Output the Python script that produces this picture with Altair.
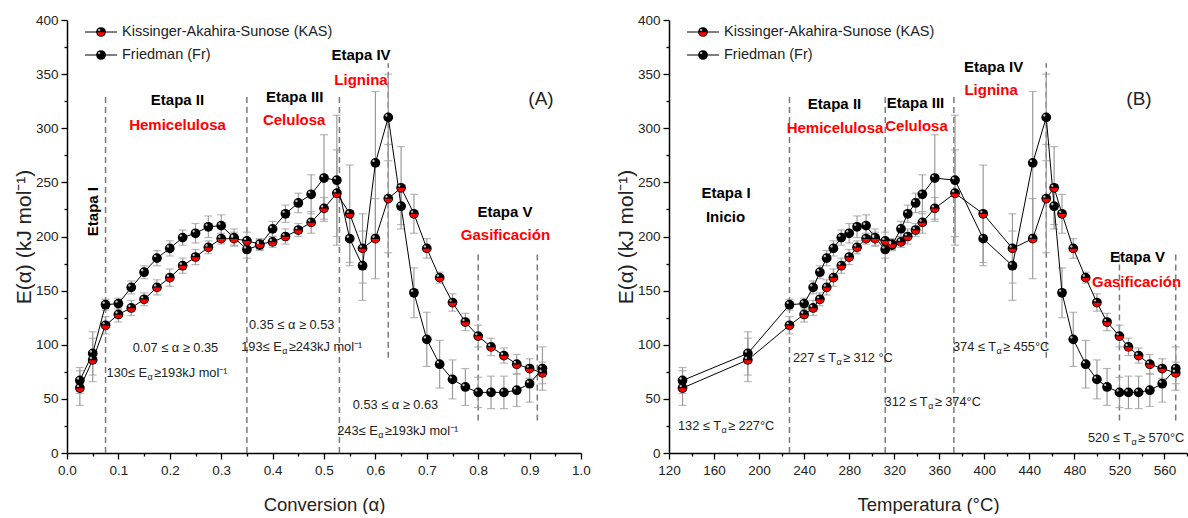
import altair as alt
import pandas as pd

# ---- kinetic data: apparent activation energy E(alpha) ----
ALPHA = [0.025, 0.05, 0.075, 0.1, 0.125, 0.15, 0.175, 0.2, 0.225, 0.25,
         0.275, 0.3, 0.325, 0.35, 0.375, 0.4, 0.425, 0.45, 0.475, 0.5,
         0.525, 0.55, 0.575, 0.6, 0.625, 0.65, 0.675, 0.7, 0.725, 0.75,
         0.775, 0.8, 0.825, 0.85, 0.875, 0.9, 0.925]
TEMP_C = [132, 190, 227, 240, 248, 254, 260, 266, 273, 280,
          287, 295, 303, 312, 318, 326, 332, 339, 345, 356,
          374, 399, 425, 443, 455, 462, 469, 479, 490, 500,
          509, 520, 528, 537, 547, 558, 570]
E_KAS = [60, 86, 118, 128, 134, 142, 153, 162, 173, 181,
         190, 198, 198, 196, 193, 195, 200, 206, 213, 226,
         240, 221, 189, 198, 235, 245, 221, 189, 162, 139,
         121, 108, 98, 90, 82, 78, 74]
E_KAS_ERR = [16, 20, 8, 7, 7, 6, 7, 8, 7, 7,
             6, 5, 6, 8, 5, 5, 7, 6, 10, 10,
             40, 45, 32, 37, 50, 38, 18, 9, 5, 8,
             8, 10, 8, 7, 9, 9, 10]
E_FR = [67, 92, 137, 138, 153, 167, 180, 189, 199, 203,
        209, 210, 199, 188, 192, 207, 221, 231, 239, 254,
        252, 198, 173, 268, 310, 228, 148, 105, 82, 68,
        61, 56, 56, 56, 58, 64, 78]
E_FR_ERR = [12, 20, 5, 5, 6, 6, 7, 7, 7, 9,
            10, 10, 8, 8, 5, 7, 8, 9, 18, 40,
            60, 25, 32, 66, 40, 17, 23, 25, 22, 18,
            17, 14, 15, 15, 15, 17, 20]
METHODS = ["Kissinger-Akahira-Sunose (KAS)", "Friedman (Fr)"]

# stage boundaries (dashed guides): position, lower and upper E
BOUNDS_ALPHA = [0.075, 0.35, 0.53, 0.625, 0.8, 0.915]
BOUNDS_TEMP = [227, 312, 373, 455, 520, 570]
BOUND_LO = [0, 0, 0, 88, 30, 30]
BOUND_HI = [330, 330, 330, 360, 185, 185]

# stage titles
STAGE_A = ["Etapa II", "Etapa III", "Etapa IV", "Etapa V"]
COMP_A = ["Hemicelulosa", "Celulosa", "Lignina", "Gasificación"]
STAGE_B = ["Etapa I", "Etapa II", "Etapa III", "Etapa IV", "Etapa V"]
COMP_B = ["Inicio", "Hemicelulosa", "Celulosa", "Lignina", "Gasificación"]
RANGE_A = ["0.07 ≤ α ≥ 0.35", "0.35 ≤ α ≥ 0.53", "0.53 ≤ α ≥ 0.63"]
EA_LEFT = ["130≤ E", "193≤ E", "243≤ E"]
EA_RIGHT = ["≥193kJ mol⁻¹", "≥243kJ mol⁻¹", "≥193kJ mol⁻¹"]
TA_LEFT = ["132 ≤ T", "227 ≤ T", "312 ≤ T", "374 ≤ T", "520 ≤ T"]
TA_RIGHT = ["≥ 227°C", "≥ 312 °C", "≥ 374°C", "≥ 455°C", "≥ 570°C"]

# ---- layout of the annotations (data coordinates) ----
STAGE_A_POS = [(0.215, 326), (0.443, 329), (0.572, 368), (0.852, 223)]
COMP_A_POS = [(0.215, 303), (0.442, 308), (0.572, 345), (0.853, 201)]
RANGE_A_POS = [(0.211, 97), (0.437, 118), (0.639, 44)]
EA_POS = [(0.1556, 74), (0.4177, 98), (0.6045, 20)]
STAGE_B_POS = [(170.6, 240), (267, 322), (338.9, 323), (408.2, 357), (536, 181)]
COMP_B_POS = [(170.2, 218), (267.4, 300), (339.8, 302), (406, 335), (535.2, 158)]
TA_POS = [(166.2, 25), (268.3, 88), (349.7, 47), (410.4, 98), (530.3, 14)]

FONT = "Liberation Sans"
RED = "#ff0000"
ERR = "#9a9a9a"
INK = "#222222"
YTITLE = "E(α) (kJ mol⁻¹)"
BIG = 15        # stage titles
SMALL = 12.8    # range notes
SUB = 9

rows = []
for i, a in enumerate(ALPHA):
    rows.append(dict(method=METHODS[0], alpha=a, T=TEMP_C[i], E=E_KAS[i],
                     lo=E_KAS[i] - E_KAS_ERR[i], hi=E_KAS[i] + E_KAS_ERR[i]))
    rows.append(dict(method=METHODS[1], alpha=a, T=TEMP_C[i], E=E_FR[i],
                     lo=E_FR[i] - E_FR_ERR[i], hi=E_FR[i] + E_FR_ERR[i]))
df = pd.DataFrame(rows)

# marker pieces (custom symbol paths in the unit square)
LOWER_HALF = "M -0.8 0.05 A 0.8 0.8 0 0 0 0.8 0.05 Z"
HILITE = "M -0.62 -0.4 A 0.24 0.24 0 1 0 -0.14 -0.4 A 0.24 0.24 0 1 0 -0.62 -0.4 Z"
MSIZE = 95

y_axis = alt.Axis(
    values=list(range(0, 401, 25)),
    labelExpr="datum.value % 50 == 0 ? datum.label : ''",
    tickSize={"condition": {"test": "datum.value % 50 != 0", "value": 3}, "value": 6},
    grid=False, labelFlush=False, labelOverlap=False, labelPadding=3,
    titlePadding=1, titleFontSize=21,
)


def make_panel(xfield, domain, xaxis, xtitle, bounds, tag):
    def X(field):
        return alt.X(f"{field}:Q", scale=alt.Scale(domain=domain, nice=False, zero=False),
                     axis=xaxis, title=xtitle)

    def Y(field):
        return alt.Y(f"{field}:Q", scale=alt.Scale(domain=[0, 400], nice=False),
                     axis=y_axis, title=YTITLE)

    guides = pd.DataFrame({"x": bounds, "y1": BOUND_LO, "y2": BOUND_HI})
    dashed = alt.Chart(guides).mark_rule(strokeDash=[6, 4], color="#7a7a7a", strokeWidth=1.5).encode(
        x=X("x"), y=Y("y1"), y2="y2")

    base = alt.Chart(df)
    bars = base.mark_rule(color=ERR, strokeWidth=1.2).encode(x=X(xfield), y=Y("lo"), y2="hi")
    cap_lo = base.mark_tick(orient="horizontal", size=8, thickness=1.2, color=ERR).encode(x=X(xfield), y=Y("lo"))
    cap_hi = base.mark_tick(orient="horizontal", size=8, thickness=1.2, color=ERR).encode(x=X(xfield), y=Y("hi"))
    lines = base.mark_line(color="black", strokeWidth=1).encode(
        x=X(xfield), y=Y("E"), detail="method:N", order=f"{xfield}:Q")
    dots = base.mark_point(filled=True, shape="circle", size=MSIZE, color="black", opacity=1).encode(
        x=X(xfield), y=Y("E"))
    reds = base.transform_filter(alt.datum.method == METHODS[0]).mark_point(
        filled=True, shape=LOWER_HALF, size=MSIZE, color=RED, opacity=1).encode(x=X(xfield), y=Y("E"))
    shine = base.mark_point(filled=True, shape=HILITE, size=MSIZE, color="#d8d8d8", opacity=0.9).encode(
        x=X(xfield), y=Y("E"))

    layers = [dashed, bars, cap_lo, cap_hi, lines, dots, reds, shine]

    # legend drawn in pixel space
    for k, name in enumerate(METHODS):
        ly = 12 + 23 * k
        one = pd.DataFrame({"t": [name]})
        c = alt.Chart(one)
        layers.append(c.mark_rule(color="black", strokeWidth=1).encode(
            x=alt.value(18), x2=alt.value(50), y=alt.value(ly)))
        layers.append(c.mark_point(filled=True, shape="circle", size=MSIZE, color="black", opacity=1).encode(
            x=alt.value(34), y=alt.value(ly)))
        if k == 0:
            layers.append(c.mark_point(filled=True, shape=LOWER_HALF, size=MSIZE, color=RED, opacity=1).encode(
                x=alt.value(34), y=alt.value(ly)))
        layers.append(c.mark_point(filled=True, shape=HILITE, size=MSIZE, color="#d8d8d8", opacity=0.9).encode(
            x=alt.value(34), y=alt.value(ly)))
        layers.append(c.mark_text(align="left", baseline="middle", font=FONT, fontSize=14.5, color=INK).encode(
            x=alt.value(55), y=alt.value(ly), text="t:N"))

    # panel tag
    tagdf = pd.DataFrame({"t": [tag]})
    layers.append(alt.Chart(tagdf).mark_text(font=FONT, fontSize=19, color=INK, baseline="middle").encode(
        x=alt.value(474 if tag == "(A)" else 470), y=alt.value(79), text="t:N"))
    return X, Y, layers


def text_layer(texts, pos, X, Y, **kw):
    d = pd.DataFrame({"t": texts, "x": [p[0] for p in pos], "y": [p[1] for p in pos]})
    props = dict(font=FONT, baseline="middle")
    props.update(kw)
    return alt.Chart(d).mark_text(**props).encode(x=X("x"), y=Y("y"), text="t:N")


axis_common = dict(grid=False, labelFlush=False, labelOverlap=False, labelPadding=4, titlePadding=19,
                   titleFontSize=18.5)

xaxis_a = alt.Axis(values=[round(v * 0.05, 2) for v in range(21)], format=".1f",
                   labelExpr="round(datum.value * 20) % 2 == 1 ? '' : datum.label",
                   tickSize={"condition": {"test": "round(datum.value * 20) % 2 == 1", "value": 3}, "value": 6},
                   **axis_common)
xaxis_b = alt.Axis(values=list(range(120, 581, 20)),
                   labelExpr="datum.value % 40 == 0 ? datum.label : ''",
                   tickSize={"condition": {"test": "datum.value % 40 != 0", "value": 3}, "value": 6},
                   **axis_common)

XA, YA, la = make_panel("alpha", [0, 1], xaxis_a, "Conversion (α)", BOUNDS_ALPHA, "(A)")
la += [
    text_layer(STAGE_A, STAGE_A_POS, XA, YA, fontSize=BIG, fontWeight="bold", color="black"),
    text_layer(COMP_A, COMP_A_POS, XA, YA, fontSize=BIG, fontWeight="bold", color=RED),
    text_layer(["Etapa I"], [(0.05, 223)], XA, YA, fontSize=BIG, fontWeight="bold", color="black", angle=270),
    text_layer(RANGE_A, RANGE_A_POS, XA, YA, fontSize=SMALL, color=INK),
    text_layer(EA_LEFT, EA_POS, XA, YA, fontSize=SMALL, color=INK, align="right"),
    text_layer(["α"] * 3, EA_POS, XA, YA, fontSize=SUB, color=INK, align="left", dx=0.5, dy=4),
    text_layer(EA_RIGHT, EA_POS, XA, YA, fontSize=SMALL, color=INK, align="left", dx=7),
]

XB, YB, lb = make_panel("T", [120, 580], xaxis_b, "Temperatura (°C)", BOUNDS_TEMP, "(B)")
lb += [
    text_layer(STAGE_B, STAGE_B_POS, XB, YB, fontSize=BIG, fontWeight="bold", color="black"),
    text_layer(COMP_B[1:], COMP_B_POS[1:], XB, YB, fontSize=BIG, fontWeight="bold", color=RED),
    text_layer(COMP_B[:1], COMP_B_POS[:1], XB, YB, fontSize=BIG, fontWeight="bold", color="black"),
    text_layer(TA_LEFT, TA_POS, XB, YB, fontSize=SMALL, color=INK, align="right"),
    text_layer(["α"] * 5, TA_POS, XB, YB, fontSize=SUB, color=INK, align="left", dx=0.5, dy=4),
    text_layer(TA_RIGHT, TA_POS, XB, YB, fontSize=SMALL, color=INK, align="left", dx=7),
]

panel_a = alt.layer(*la).properties(width=514, height=433)
panel_b = alt.layer(*lb).properties(width=518, height=433)

chart = alt.hconcat(panel_a, panel_b, spacing=88, bounds="flush").properties(
    padding={"left": 13, "top": 13, "right": 0, "bottom": 0},
    background="white",
).configure_view(stroke=None).configure_axis(
    domainColor="black", domainWidth=1.5, tickColor="black", tickWidth=1.3,
    labelFont=FONT, labelFontSize=13.5, labelColor=INK,
    titleFont=FONT, titleFontWeight="normal", titleColor=INK,
)

chart.save("out.html", embed_options={"renderer": "svg", "actions": False})
